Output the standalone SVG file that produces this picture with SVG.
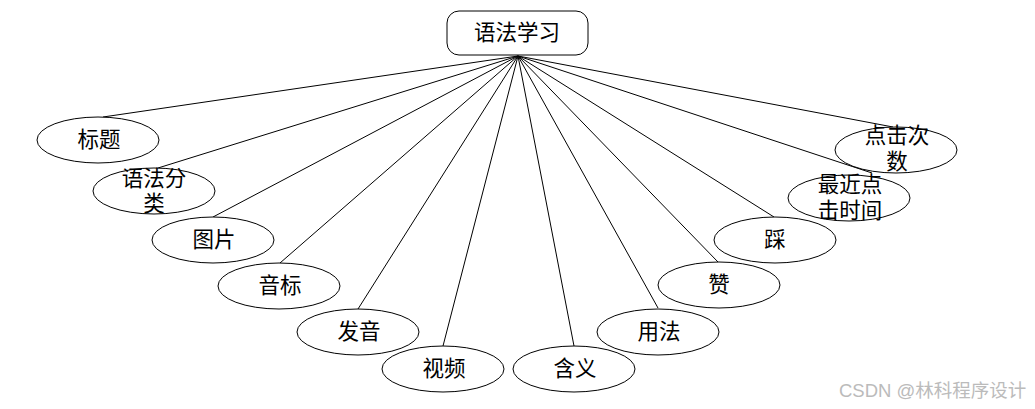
<svg xmlns="http://www.w3.org/2000/svg" width="1035" height="409" viewBox="0 0 1035 409">
<style>
.n ellipse,.n rect{fill:#fff;stroke:#000;stroke-width:1}
.t{font-family:"Liberation Serif","Noto Sans CJK SC",serif;font-size:21.5px;fill:#000;text-anchor:middle;dominant-baseline:central}
#edges line{stroke:#000;stroke-width:1}
.wm{font-family:"Liberation Sans","Noto Sans CJK SC",sans-serif;font-size:18.5px;fill:#bbb}
</style>
<rect width="1035" height="409" fill="#fff"/>
<g id="edges">
<line x1="518" y1="56" x2="103" y2="117"/>
<line x1="518" y1="56" x2="158" y2="168"/>
<line x1="518" y1="56" x2="213" y2="217"/>
<line x1="518" y1="56" x2="280" y2="263"/>
<line x1="518" y1="56" x2="358" y2="309"/>
<line x1="518" y1="56" x2="443" y2="346"/>
<line x1="518" y1="56" x2="574" y2="346"/>
<line x1="518" y1="56" x2="658" y2="308"/>
<line x1="518" y1="56" x2="718" y2="262"/>
<line x1="518" y1="56" x2="774" y2="217"/>
<line x1="518" y1="56" x2="872" y2="173"/>
<line x1="518" y1="56" x2="893" y2="127"/>
</g>
<g id="root" class="n"><rect x="447" y="11" width="141" height="44" rx="12"/><text class="t" x="517" y="33">语法学习</text></g>
<g id="n1" class="n"><ellipse cx="98" cy="140" rx="61" ry="23"/><text class="t" x="99" y="140">标题</text></g>
<g id="n2" class="n"><ellipse cx="154" cy="191" rx="61" ry="23"/><text class="t" x="154" y="179">语法分</text><text class="t" x="154" y="204">类</text></g>
<g id="n3" class="n"><ellipse cx="213" cy="240" rx="61" ry="23"/><text class="t" x="214" y="240">图片</text></g>
<g id="n4" class="n"><ellipse cx="279" cy="286" rx="61" ry="23"/><text class="t" x="280" y="286">音标</text></g>
<g id="n5" class="n"><ellipse cx="358" cy="332" rx="61" ry="23"/><text class="t" x="359" y="332">发音</text></g>
<g id="n6" class="n"><ellipse cx="443" cy="369" rx="61" ry="23"/><text class="t" x="444" y="369">视频</text></g>
<g id="n7" class="n"><ellipse cx="574" cy="369" rx="61" ry="23"/><text class="t" x="575" y="369">含义</text></g>
<g id="n8" class="n"><ellipse cx="658" cy="332" rx="61" ry="23"/><text class="t" x="659" y="332">用法</text></g>
<g id="n9" class="n"><ellipse cx="719" cy="285" rx="61" ry="23"/><text class="t" x="719" y="285">赞</text></g>
<g id="n10" class="n"><ellipse cx="775" cy="240" rx="61" ry="23"/><text class="t" x="775" y="240">踩</text></g>
<g id="n11" class="n"><ellipse cx="849" cy="198" rx="61" ry="23"/><text class="t" x="850" y="185">最近点</text><text class="t" x="850" y="211">击时间</text></g>
<g id="n12" class="n"><ellipse cx="896" cy="150" rx="61" ry="23"/><text class="t" x="897" y="136">点击次</text><text class="t" x="897" y="162">数</text></g>
<text class="wm" x="839" y="397">CSDN @林科程序设计</text>
</svg>
